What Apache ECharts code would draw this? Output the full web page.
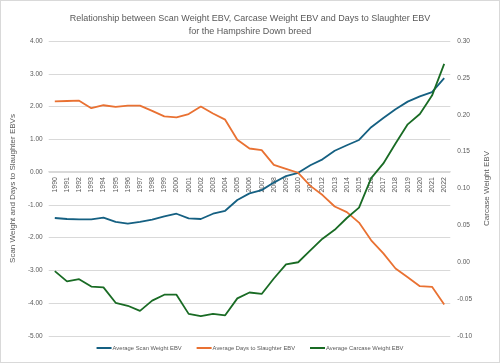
<!DOCTYPE html>
<html>
<head>
<meta charset="utf-8">
<script src="https://cdn.jsdelivr.net/npm/echarts@6/dist/echarts.min.js"></script>
<style>
html,body{margin:0;padding:0;background:#fff;}
#c{width:500px;height:363px;box-sizing:border-box;border:1px solid #d9d9d9;}
</style>
</head>
<body>
<div id="c"></div>
<script>
const years = ['1990','1991','1992','1993','1994','1995','1996','1997','1998','1999','2000','2001','2002','2003','2004','2005','2006','2007','2008','2009','2010','2011','2012','2013','2014','2015','2016','2017','2018','2019','2020','2021','2022'];
const scanWeight = [-1.40,-1.43,-1.44,-1.44,-1.39,-1.52,-1.57,-1.52,-1.45,-1.35,-1.27,-1.41,-1.43,-1.27,-1.18,-0.85,-0.65,-0.55,-0.32,-0.12,-0.02,0.21,0.39,0.65,0.82,0.98,1.37,1.65,1.92,2.15,2.31,2.44,2.87];
const daysToSlaughter = [2.16,2.17,2.18,1.95,2.04,1.99,2.03,2.03,1.87,1.70,1.67,1.77,2.00,1.79,1.60,0.99,0.72,0.67,0.22,0.10,-0.02,-0.42,-0.70,-1.05,-1.22,-1.54,-2.08,-2.48,-2.94,-3.21,-3.48,-3.50,-4.04];
const carcaseWeight = [-0.012,-0.026,-0.023,-0.033,-0.034,-0.055,-0.059,-0.066,-0.052,-0.044,-0.044,-0.070,-0.073,-0.070,-0.072,-0.049,-0.041,-0.043,-0.022,-0.003,0.000,0.016,0.032,0.044,0.060,0.074,0.114,0.134,0.161,0.187,0.201,0.226,0.269];
const titleText = 'Relationship between Scan Weight EBV, Carcase Weight EBV and Days to Slaughter EBV\nfor the Hampshire Down breed';
const seriesNames = ['Average Scan Weight EBV','Average Days to Slaughter EBV','Average Carcase Weight EBV'];
const leftAxisName = 'Scan Weight and Days to Slaughter EBVs';
const rightAxisName = 'Carcase Weight EBV';

const FONT = 'Liberation Sans';
const TXT = '#595959';
const GRID_TOP = 40, GRID_BOTTOM = 26, GRID_H = 363 - GRID_TOP - GRID_BOTTOM;
const L_MIN = -5, L_MAX = 4;
// place the category axis on the zero line of the left axis
const zeroOffset = -GRID_H * (0 - L_MIN) / (L_MAX - L_MIN);
const chart = echarts.init(document.getElementById('c'));
chart.setOption({
  animation:false,
  color:['#156082','#E97132','#196B24'],
  textStyle:{fontFamily:FONT},
  title:{text:titleText,left:'center',top:6,textStyle:{fontSize:9,fontWeight:'normal',color:TXT,lineHeight:13,fontFamily:FONT}},
  grid:{left:42,right:43,top:GRID_TOP,bottom:GRID_BOTTOM,containLabel:false},
  legend:{bottom:6,left:'center',icon:'rect',itemWidth:15,itemHeight:2,itemGap:15,
    textStyle:{fontSize:5.8,color:TXT,fontFamily:FONT,padding:[0,0,0,-4]},data:seriesNames},
  xAxis:{type:'category',data:years,boundaryGap:true,offset:zeroOffset,
    axisLine:{show:true,onZero:false,lineStyle:{color:'#d9d9d9'}},axisTick:{show:false},
    axisLabel:{rotate:90,interval:0,fontSize:7,color:TXT,margin:6}},
  yAxis:[
    {type:'value',min:L_MIN,max:L_MAX,interval:1,name:leftAxisName,nameLocation:'middle',nameRotate:90,nameGap:24,
     nameTextStyle:{fontSize:8,color:TXT},
     axisLabel:{fontSize:6.5,color:TXT,margin:6,formatter:v=>v.toFixed(2)},
     splitLine:{lineStyle:{color:'#d9d9d9',width:1}},axisLine:{show:false},axisTick:{show:false}},
    {type:'value',min:-0.1,max:0.3,interval:0.05,position:'right',name:rightAxisName,nameLocation:'middle',nameRotate:90,nameGap:24,
     nameTextStyle:{fontSize:8,color:TXT},
     axisLabel:{fontSize:6.5,color:TXT,margin:7,formatter:v=>v.toFixed(2)},
     splitLine:{show:false},axisLine:{show:false},axisTick:{show:false}}
  ],
  series:[
    {name:seriesNames[0],type:'line',data:scanWeight,yAxisIndex:0,showSymbol:false,lineStyle:{width:1.8}},
    {name:seriesNames[1],type:'line',data:daysToSlaughter,yAxisIndex:0,showSymbol:false,lineStyle:{width:1.8}},
    {name:seriesNames[2],type:'line',data:carcaseWeight,yAxisIndex:1,showSymbol:false,lineStyle:{width:1.8}}
  ]
});
</script>
</body>
</html>
